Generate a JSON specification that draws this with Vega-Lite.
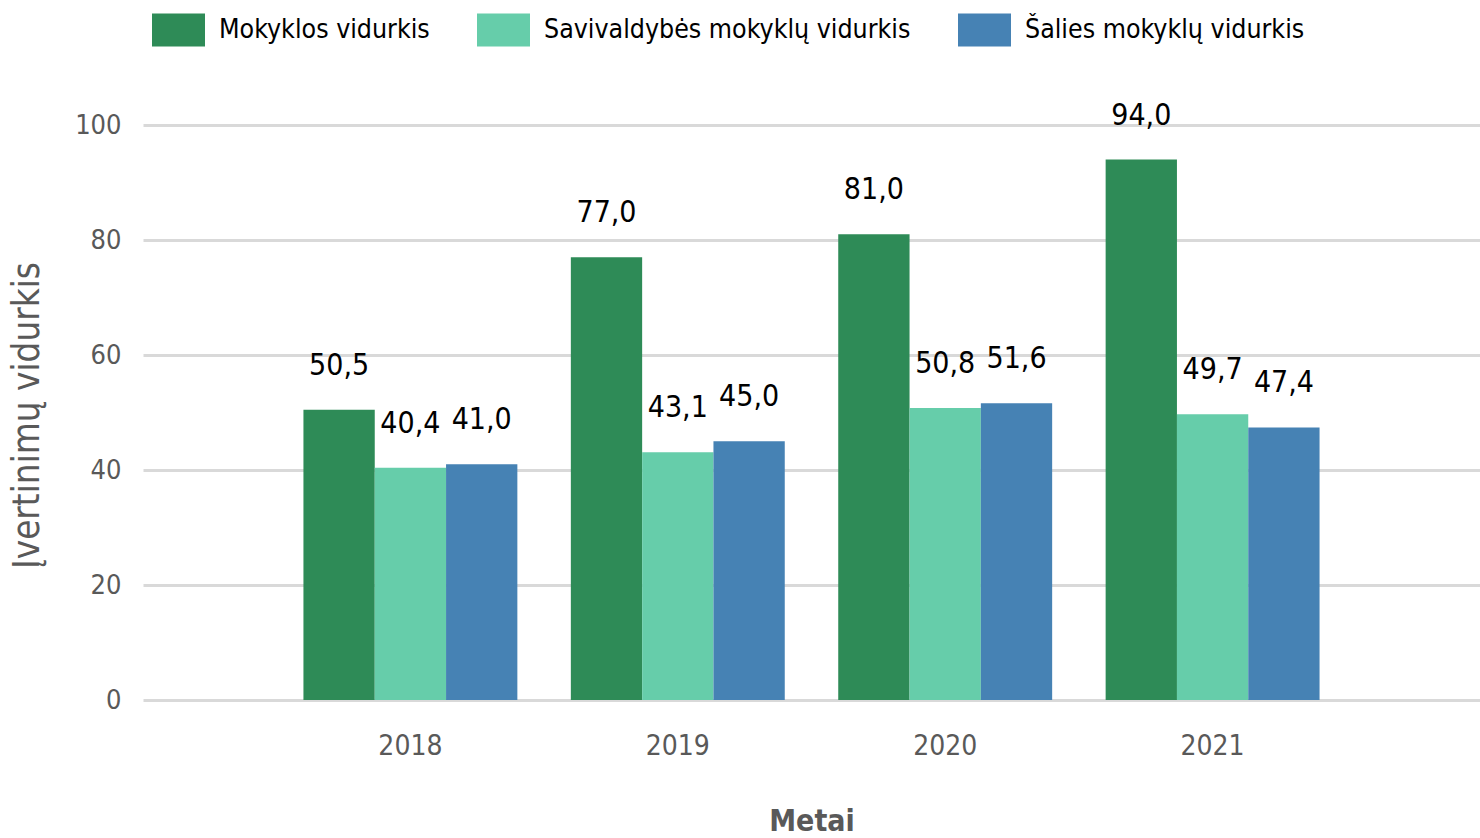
{
  "$schema": "https://vega.github.io/schema/vega-lite/v6.json",
  "width": 1337,
  "height": 575,
  "autosize": {"type": "none"},
  "padding": {"left": 143, "top": 125, "right": 0, "bottom": 138},
  "background": "white",
  "config": {
    "view": {"stroke": null},
    "font": "DejaVu Sans Condensed, Open Sans",
    "locale": {"number": {"decimal": ",", "thousands": " ", "grouping": [3], "currency": ["", " €"]}}
  },
  "data": {
    "values": [
      {"metai": "2018", "serija": "Mokyklos vidurkis", "vidurkis": 50.5},
      {"metai": "2018", "serija": "Savivaldybės mokyklų vidurkis", "vidurkis": 40.4},
      {"metai": "2018", "serija": "Šalies mokyklų vidurkis", "vidurkis": 41.0},
      {"metai": "2019", "serija": "Mokyklos vidurkis", "vidurkis": 77.0},
      {"metai": "2019", "serija": "Savivaldybės mokyklų vidurkis", "vidurkis": 43.1},
      {"metai": "2019", "serija": "Šalies mokyklų vidurkis", "vidurkis": 45.0},
      {"metai": "2020", "serija": "Mokyklos vidurkis", "vidurkis": 81.0},
      {"metai": "2020", "serija": "Savivaldybės mokyklų vidurkis", "vidurkis": 50.8},
      {"metai": "2020", "serija": "Šalies mokyklų vidurkis", "vidurkis": 51.6},
      {"metai": "2021", "serija": "Mokyklos vidurkis", "vidurkis": 94.0},
      {"metai": "2021", "serija": "Savivaldybės mokyklų vidurkis", "vidurkis": 49.7},
      {"metai": "2021", "serija": "Šalies mokyklų vidurkis", "vidurkis": 47.4}
    ]
  },
  "encoding": {
    "x": {
      "field": "metai", "type": "nominal",
      "scale": {"paddingInner": 0.2, "paddingOuter": 0.6},
      "axis": {
        "title": "Metai", "labelAngle": 0, "ticks": false, "domain": false,
        "labelFontSize": 28, "labelColor": "#595959", "labelPadding": 32,
        "titleFontSize": 30, "titleFontWeight": "bold", "titleColor": "#595959",
        "titleX": 668.5, "titleY": 130, "titleBaseline": "alphabetic"
      }
    },
    "xOffset": {
      "field": "serija", "type": "nominal",
      "sort": ["Mokyklos vidurkis", "Savivaldybės mokyklų vidurkis", "Šalies mokyklų vidurkis"],
      "scale": {"paddingInner": 0, "paddingOuter": 0}
    },
    "y": {
      "field": "vidurkis", "type": "quantitative",
      "scale": {"domain": [0, 100], "nice": false},
      "axis": {
        "title": "Įvertinimų vidurkis", "values": [0, 20, 40, 60, 80, 100],
        "ticks": false, "domain": false, "gridColor": "#d9d9d9", "gridWidth": 3,
        "labelFontSize": 27, "labelColor": "#595959", "labelPadding": 22,
        "titleFontSize": 36.5, "titleFontWeight": "normal", "titleColor": "#595959",
        "titleX": -105, "titleY": 290, "titleBaseline": "alphabetic", "titleAngle": -90
      }
    }
  },
  "layer": [
    {
      "mark": {"type": "bar"},
      "encoding": {
        "color": {
          "field": "serija", "type": "nominal",
          "sort": ["Mokyklos vidurkis", "Savivaldybės mokyklų vidurkis", "Šalies mokyklų vidurkis"],
          "scale": {
            "domain": ["Mokyklos vidurkis", "Savivaldybės mokyklų vidurkis", "Šalies mokyklų vidurkis"],
            "range": ["#2e8b57", "#66cdaa", "#4682b4"]
          },
          "legend": {
            "title": null, "orient": "none", "direction": "horizontal",
            "legendX": 9, "legendY": -122,
            "symbolType": "M-1,-0.623H1V0.623H-1Z", "symbolSize": 2809,
            "symbolStrokeWidth": 0, "symbolOpacity": 1,
            "labelFontSize": 26.5, "labelColor": "#000000", "labelOffset": 14, "labelLimit": 600,
            "columnPadding": 47, "padding": 0
          }
        }
      }
    },
    {
      "mark": {"type": "text", "baseline": "alphabetic", "align": "center", "dy": -35, "fontSize": 30, "color": "#000000"},
      "encoding": {
        "text": {"field": "vidurkis", "type": "quantitative", "format": ".1f"}
      }
    }
  ]
}
